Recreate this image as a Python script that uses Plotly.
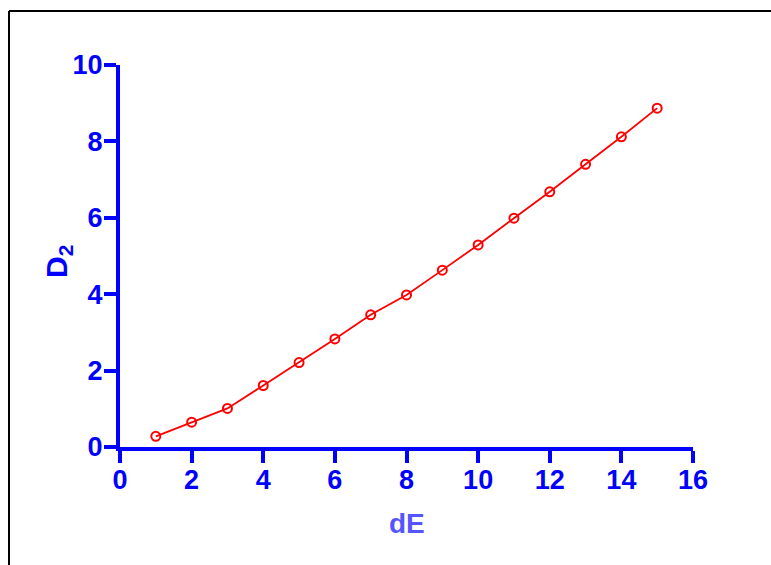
import plotly.graph_objects as go

dE = [1, 2, 3, 4, 5, 6, 7, 8, 9, 10, 11, 12, 13, 14, 15]
D2 = [0.28, 0.65, 1.01, 1.61, 2.21, 2.83, 3.46, 3.98, 4.63, 5.29, 5.99, 6.68, 7.40, 8.12, 8.87]
x_ticks = [0, 2, 4, 6, 8, 10, 12, 14, 16]
y_ticks = [0, 2, 4, 6, 8, 10]

BLUE = "#0000ff"
FONT = "Arial, 'Liberation Sans', sans-serif"

fig = go.Figure()
fig.add_trace(go.Scatter(
    x=dE, y=D2, mode="lines+markers",
    line=dict(color="#ff0000", width=1.8),
    marker=dict(symbol="circle-open", size=9, color="#ff0000", line=dict(width=2, color="#ff0000")),
    showlegend=False, hoverinfo="skip",
))

axis_common = dict(
    showgrid=False, zeroline=False, showline=True, linecolor=BLUE, linewidth=4,
    ticks="outside", ticklen=12, tickwidth=4, tickcolor=BLUE,
    tickfont=dict(family=FONT, size=27, color=BLUE, weight="bold"),
)

fig.update_xaxes(range=[0, 16], tickvals=x_ticks, ticklabelstandoff=-6, **axis_common)
fig.update_yaxes(range=[0, 10], tickvals=y_ticks, ticklabelstandoff=-4, **axis_common)

W, H = 771, 565
L, T = 120, 65
fig.update_layout(
    width=W, height=H,
    margin=dict(l=L, r=W - L - 573, t=T, b=H - T - 382),
    paper_bgcolor="white", plot_bgcolor="white",
    annotations=[
        dict(text="dE", xref="paper", yref="paper", x=0.5, y=-76 / 382,
             xanchor="center", yanchor="middle", showarrow=False,
             font=dict(family=FONT, size=28, color="#5555ff", weight="bold")),
        dict(text="D<sub>2</sub>", xref="paper", yref="paper", x=(58 - L) / 573, y=1 - 197 / 382,
             xanchor="center", yanchor="middle", showarrow=False, textangle=-90,
             font=dict(family=FONT, size=30, color=BLUE, weight="bold")),
    ],
    shapes=[
        dict(type="line", xref="paper", yref="paper",
             x0=(9 - L) / 573, x1=1.3, y0=1 + (T - 11) / 382, y1=1 + (T - 11) / 382,
             line=dict(color="black", width=2), layer="above"),
        dict(type="line", xref="paper", yref="paper",
             x0=(9 - L) / 573, x1=(9 - L) / 573, y0=-0.5, y1=1 + (T - 11) / 382,
             line=dict(color="black", width=2), layer="above"),
    ],
)

fig.write_html("out.html", config={"displayModeBar": False},
               post_script="document.body.style.margin='0';document.body.style.overflow='hidden';")
